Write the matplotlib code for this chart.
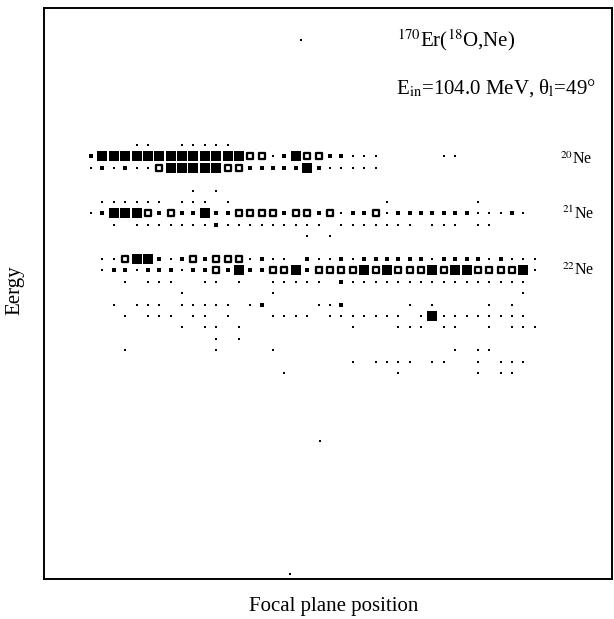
import matplotlib
matplotlib.use("Agg")
import matplotlib.pyplot as plt
import numpy as np

plt.rcParams['font.family'] = ['Liberation Serif', 'DejaVu Serif']
plt.rcParams['mathtext.fontset'] = 'stix'

# box-plot cells, one string per energy row (top to bottom), one char per focal-plane bin
# 0 empty, 1 tiny, 2 small, 3 large filled, 4 large open box  (groups of 10 bins)
row_00 = "0000110011 1110000000 0000000000 0000000000"
row_01 = "2333333333 3333441234 4221110000 0110000000"
row_02 = "1212114333 3344222223 2111110000 0000000000"
row_03 = "0000000000 0000000000 0000000000 0000000000"
row_04 = "0000000001 0100000000 0000000000 0000000000"
row_05 = "0111111011 1010000000 0000001000 0000100000"
row_06 = "1233342422 3224444244 2412241222 2222111210"
row_07 = "0010111111 1211111111 1011111110 1110110000"
row_08 = "0000000000 0000000001 0100000000 0000000000"
row_09 = "0000000000 0000000000 0000000000 0000000000"
row_10 = "0114332124 2444121102 1121222222 1222212111"
row_11 = "0122122212 2423224432 4444343444 3433444431"
row_12 = "0001011100 1101001111 1021111111 1111111110"
row_13 = "0000000010 0000001000 0000000000 0000000010"
row_14 = "0010111011 1110120000 1120000010 1000010100"
row_15 = "0001011101 1010001111 0111111101 3111111110"
row_16 = "0000000010 1101000000 0001000111 0110010111"
row_17 = "0000000000 0101000000 0000000000 0000000000"
row_18 = "0001000000 0100001000 0000000000 0010110000"
row_19 = "0000000000 0000000000 0001011110 1100101110"
row_20 = "0000000000 0000000100 0000000100 0000101100"

rows = [row_00, row_01, row_02, row_03, row_04, row_05, row_06, row_07,
        row_08, row_09, row_10, row_11, row_12, row_13, row_14, row_15,
        row_16, row_17, row_18, row_19, row_20]
rows = [s.replace(" ", "") for s in rows]

# a few isolated counts away from the bands
stray_bin = [18.45, 20.1, 17.5]
stray_row = [-9.2, 26.0, 37.6]

fig = plt.figure(figsize=(6.14, 6.19), dpi=100)
ax = fig.add_axes([44/614, 1 - 579/619, 568/614, 571/619])

def cells(code):
    xs, ys = [], []
    for r, s in enumerate(rows):
        for k, c in enumerate(s):
            if c == code:
                xs.append(k)
                ys.append(r)
    return xs, ys

size = {'1': 2.2, '2': 11.0, '3': 48.0}
for code in ('1', '2', '3'):
    xs, ys = cells(code)
    ax.scatter(xs, ys, s=size[code], marker='s', c='black', linewidths=0)

xs, ys = cells('4')
ax.scatter(xs, ys, s=23, marker='s', facecolors='white', edgecolors='black', linewidths=1.65)
ax.scatter(stray_bin, stray_row, s=2.2, marker='s', c='black', linewidths=0)

ax.set_xlim((44 - 91) / 11.38, (612 - 91) / 11.38)
ax.set_ylim((579 - 145) / 11.4, (8 - 145) / 11.4)
ax.set_xticks([])
ax.set_yticks([])
for sp in ax.spines.values():
    sp.set_linewidth(1.4)

def fx(x):
    return x / 614

def fy(y):
    return 1 - y / 619

fig.text(fx(397), fy(40), r'$^{170}$Er($^{18}$O,Ne)', fontsize=15, ha='left', va='center')
fig.text(fx(396), fy(88), r'E$_{\mathrm{in}}$=104.0 MeV, θ$_{\mathrm{l}}$=49°', fontsize=15,
         ha='left', va='center')
fig.text(fx(560), fy(160), r'$^{20}$Ne', fontsize=11.5, ha='left', va='center')
fig.text(fx(562), fy(214), r'$^{21}$Ne', fontsize=11.5, ha='left', va='center')
fig.text(fx(562), fy(271), r'$^{22}$Ne', fontsize=11.5, ha='left', va='center')

fig.text(fx(334), fy(606), 'Focal plane position', fontsize=15, ha='center', va='center')
fig.text(fx(15), fy(290), 'Eergy', fontsize=15, ha='center', va='center', rotation=90)

fig.savefig('out.png', dpi=100)
